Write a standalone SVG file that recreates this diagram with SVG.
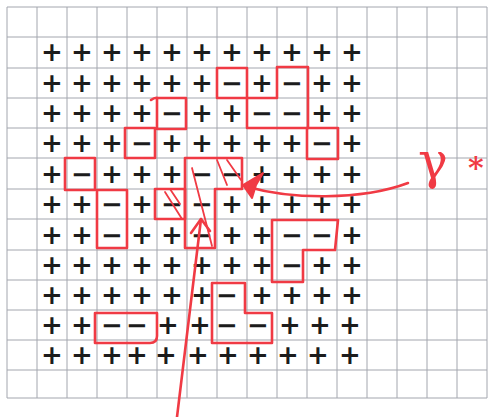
<svg xmlns="http://www.w3.org/2000/svg" width="493" height="417" viewBox="0 0 493 417">
<style>
.g{stroke:#a3a6ae;stroke-width:1;fill:none}
.s{font-family:"DejaVu Sans",sans-serif;font-weight:bold;font-size:26px;fill:#1c1c1c;text-anchor:middle}
.r{stroke:#f03a44;stroke-width:2.6;fill:none;stroke-linejoin:round;stroke-linecap:round}
.h{stroke:#f03a44;stroke-width:1.8;fill:none;stroke-linecap:round}
.lab{font-family:"DejaVu Serif",serif;fill:#f03a44}
</style>
<rect width="493" height="417" fill="#ffffff"/>
<g id="grid">
<path class="g" d="M7,7V398M37,7V398M67,7V398M97,7V398M127,7V398M157,7V398M187,7V398M217,7V398M247,7V398M277,7V398M307,7V398M337,7V398M367,7V398M397,7V398M427,7V398M457,7V398M487,7V398"/>
<path class="g" d="M7,7H487M7,37H487M7,68H487M7,98H487M7,128H487M7,158H487M7,189H487M7,219H487M7,250H487M7,280H487M7,310H487M7,340H487M7,370H487M7,398H487"/>
</g>
<g id="signs">
<text class="s" y="61"><tspan x="52">+</tspan><tspan x="82">+</tspan><tspan x="112">+</tspan><tspan x="142">+</tspan><tspan x="172">+</tspan><tspan x="202">+</tspan><tspan x="232">+</tspan><tspan x="262">+</tspan><tspan x="292">+</tspan><tspan x="322">+</tspan><tspan x="352">+</tspan></text>
<text class="s" y="92"><tspan x="52">+</tspan><tspan x="82">+</tspan><tspan x="112">+</tspan><tspan x="142">+</tspan><tspan x="172">+</tspan><tspan x="202">+</tspan><tspan x="232">−</tspan><tspan x="262">+</tspan><tspan x="292">−</tspan><tspan x="322">+</tspan><tspan x="352">+</tspan></text>
<text class="s" y="122"><tspan x="52">+</tspan><tspan x="82">+</tspan><tspan x="112">+</tspan><tspan x="142">+</tspan><tspan x="172">−</tspan><tspan x="202">+</tspan><tspan x="232">+</tspan><tspan x="262">−</tspan><tspan x="292">−</tspan><tspan x="322">+</tspan><tspan x="352">+</tspan></text>
<text class="s" y="152"><tspan x="52">+</tspan><tspan x="82">+</tspan><tspan x="112">+</tspan><tspan x="142">−</tspan><tspan x="172">+</tspan><tspan x="202">+</tspan><tspan x="232">+</tspan><tspan x="262">+</tspan><tspan x="292">+</tspan><tspan x="322">−</tspan><tspan x="352">+</tspan></text>
<text class="s" y="183"><tspan x="52">+</tspan><tspan x="82">−</tspan><tspan x="112">+</tspan><tspan x="142">+</tspan><tspan x="172">+</tspan><tspan x="202">−</tspan><tspan x="232">−</tspan><tspan x="262">+</tspan><tspan x="292">+</tspan><tspan x="322">+</tspan><tspan x="352">+</tspan></text>
<text class="s" y="213"><tspan x="52">+</tspan><tspan x="82">+</tspan><tspan x="112">−</tspan><tspan x="142">+</tspan><tspan x="172">−</tspan><tspan x="202">−</tspan><tspan x="232">+</tspan><tspan x="262">+</tspan><tspan x="292">+</tspan><tspan x="322">+</tspan><tspan x="352">+</tspan></text>
<text class="s" y="244"><tspan x="52">+</tspan><tspan x="82">+</tspan><tspan x="112">−</tspan><tspan x="142">+</tspan><tspan x="172">+</tspan><tspan x="202">−</tspan><tspan x="232">+</tspan><tspan x="262">+</tspan><tspan x="292">−</tspan><tspan x="322">−</tspan><tspan x="352">+</tspan></text>
<text class="s" y="274"><tspan x="52">+</tspan><tspan x="82">+</tspan><tspan x="112">+</tspan><tspan x="142">+</tspan><tspan x="172">+</tspan><tspan x="202">+</tspan><tspan x="232">+</tspan><tspan x="262">+</tspan><tspan x="292">−</tspan><tspan x="322">+</tspan><tspan x="352">+</tspan></text>
<text class="s" y="304"><tspan x="52">+</tspan><tspan x="82">+</tspan><tspan x="112">+</tspan><tspan x="142">+</tspan><tspan x="172">+</tspan><tspan x="202">+</tspan><tspan x="227">−</tspan><tspan x="262">+</tspan><tspan x="292">+</tspan><tspan x="322">+</tspan><tspan x="352">+</tspan></text>
<text class="s" y="334"><tspan x="52">+</tspan><tspan x="82">+</tspan><tspan x="112">−</tspan><tspan x="137">−</tspan><tspan x="168">+</tspan><tspan x="200">+</tspan><tspan x="227">−</tspan><tspan x="258">−</tspan><tspan x="290">+</tspan><tspan x="320">+</tspan><tspan x="350">+</tspan></text>
<text class="s" y="364"><tspan x="52">+</tspan><tspan x="82">+</tspan><tspan x="112">+</tspan><tspan x="137">+</tspan><tspan x="166">+</tspan><tspan x="198">+</tspan><tspan x="228">+</tspan><tspan x="258">+</tspan><tspan x="288">+</tspan><tspan x="318">+</tspan><tspan x="350">+</tspan></text>
</g>
<g id="regions">
<rect class="r" x="217" y="68" width="30" height="30"/>
<path class="r" d="M247,98H277V67H308V128H247Z"/>
<path class="r" d="M151,100Q155,97 158,98H186V129H157V98"/>
<rect class="r" x="125" y="128" width="30" height="30"/>
<rect class="r" x="307" y="128" width="31" height="31"/>
<rect class="r" x="65" y="158" width="30" height="32"/>
<rect class="r" x="97" y="190" width="30" height="58"/>
<path class="r" d="M185,158H242V189H215V248H185Z"/>
<rect class="r" x="155" y="189" width="30" height="30"/>
<path class="r" d="M272,220H338L335,250H303V282H272Z"/>
<path class="r" d="M212,283H245V313H272V343H212Z"/>
<path class="r" d="M95,313H157V336Q157,343 150,343H95Z"/>
</g>
<g id="hatching">
<path class="h" d="M192,168L212,246M217,160L227,185M227,160L241,180M165,192L182,219M170,189L180,204"/>
</g>
<g id="connectors">
<path class="r" d="M177,417L201,219"/>
<path class="r" d="M191,233L201,219L210,231"/>
<path class="r" d="M408,183C360,201 290,199 248,187"/>
<path d="M243,185L263,173L256,185L252,198Z" fill="#f03a44" stroke="#f03a44" stroke-width="2" stroke-linejoin="round"/>
</g>
<g id="label">
<text class="lab" x="418" y="178" font-size="50">γ</text>
<text class="lab" x="468" y="178" font-size="30" font-weight="bold">*</text>
</g>
</svg>
